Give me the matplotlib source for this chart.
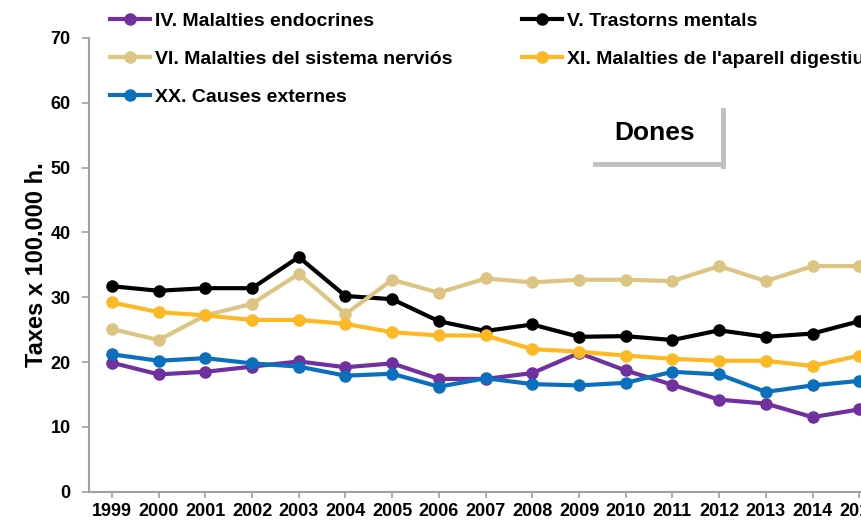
import numpy as np
import matplotlib.pyplot as plt
from matplotlib.lines import Line2D

plt.rcParams['font.family'] = ['Liberation Sans', 'DejaVu Sans']
plt.rcParams['font.weight'] = 'bold'

years = list(range(1999, 2016))

endocrines = [19.9, 18.1, 18.5, 19.3, 20.1, 19.2, 19.8, 17.4, 17.4, 18.3, 21.4, 18.7, 16.5, 14.2, 13.6, 11.5, 12.7]
mentals    = [31.7, 31.0, 31.4, 31.4, 36.2, 30.2, 29.7, 26.3, 24.8, 25.8, 23.9, 24.0, 23.4, 24.9, 23.9, 24.4, 26.3]
nervios    = [25.1, 23.4, 27.2, 29.0, 33.6, 27.4, 32.7, 30.7, 32.9, 32.3, 32.7, 32.7, 32.5, 34.8, 32.5, 34.8, 34.8]
digestiu   = [29.2, 27.7, 27.2, 26.5, 26.5, 25.9, 24.6, 24.1, 24.1, 22.0, 21.6, 21.0, 20.5, 20.2, 20.2, 19.4, 21.0]
externes   = [21.2, 20.2, 20.6, 19.8, 19.3, 17.9, 18.2, 16.2, 17.5, 16.6, 16.4, 16.8, 18.5, 18.1, 15.4, 16.4, 17.1]

series = [
    ("IV. Malalties endocrines", endocrines, "#7030A0"),
    ("V. Trastorns mentals", mentals, "#000000"),
    ("VI. Malalties del sistema nerviós", nervios, "#DCC582"),
    ("XI. Malalties de l'aparell digestiu", digestiu, "#FDB924"),
    ("XX. Causes externes", externes, "#0A70BE"),
]

W, H = 861, 523
fig = plt.figure(figsize=(W / 100, H / 100), dpi=100)
# axes runs past the right edge, like the cropped original
ax = fig.add_axes([88.6 / W, 1 - 491.7 / H, 794 / W, 453.7 / H])

x = np.arange(len(years))
lines = []
for label, vals, col in series:
    ln, = ax.plot(x, vals, color=col, lw=3, marker='o', ms=8, label=label)
    lines.append(ln)

ax.set_xlim(-0.5, len(years) - 0.5)
ax.set_ylim(0, 70)
ax.set_yticks(range(0, 71, 10))
ax.set_xticks(x)
ax.set_xticklabels(years)
ax.tick_params(axis='both', colors='#A0A0A0', labelcolor='black', labelsize=13, width=1.2, length=5)
ax.tick_params(axis='x', pad=4, length=4)
ax.tick_params(axis='y', pad=8)
for s in ['top', 'right']:
    ax.spines[s].set_visible(False)
for s in ['left', 'bottom']:
    ax.spines[s].set_color('#A0A0A0')
    ax.spines[s].set_linewidth(1.5)

ax.set_ylabel("Taxes x 100.000 h.", fontsize=17, fontweight='bold', labelpad=2)

# legend filled row by row as in the original
order = [0, 2, 4, 1, 3]
leg = fig.legend([lines[i] for i in order], [series[i][0] for i in order],
                 loc='upper left', bbox_to_anchor=(110 / W, 1 - 12 / H), ncol=2, frameon=False,
                 fontsize=14, handlelength=2.05, columnspacing=3.6, labelspacing=1.05,
                 handletextpad=0.25, borderpad=0, borderaxespad=0)

# "Dones" label with grey shadow lines
fig.text(655 / W, 1 - 133 / H, "Dones", ha='center', va='center', fontsize=19, fontweight='bold')
fig.add_artist(Line2D([595 / W, 723 / W], [1 - 164 / H, 1 - 164 / H], color='#C0C0C0', lw=3.5))
fig.add_artist(Line2D([723 / W, 723 / W], [1 - 110 / H, 1 - 165.5 / H], color='#C0C0C0', lw=3.5))

fig.savefig("out.png", dpi=100)
